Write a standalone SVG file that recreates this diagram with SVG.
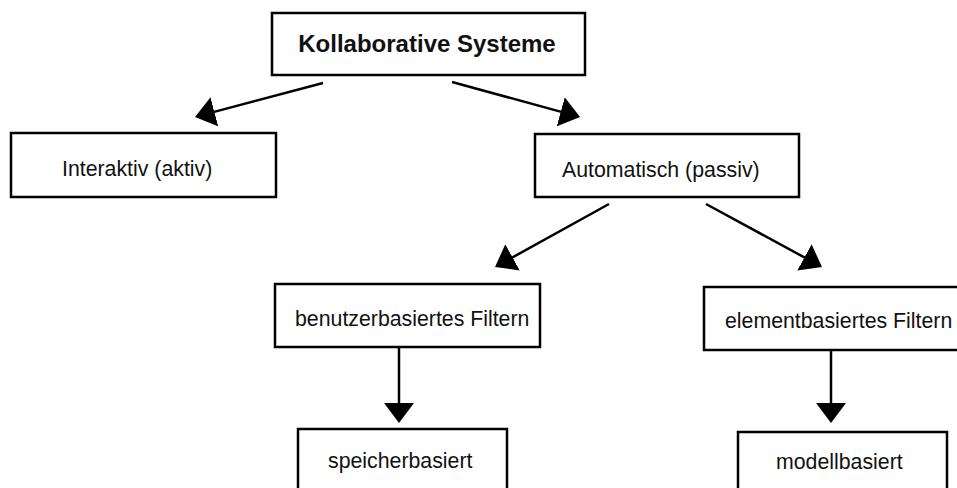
<svg xmlns="http://www.w3.org/2000/svg" width="957" height="488" viewBox="0 0 957 488">
<style>
.box{fill:#fff;stroke:#000;stroke-width:2.5}
.t{font-family:"Liberation Sans",Arial,Helvetica,sans-serif;font-size:21.3px;fill:#111}
.tb{font-family:"Liberation Sans",Arial,Helvetica,sans-serif;font-size:24px;font-weight:bold;fill:#111}
.c{stroke:#000;stroke-width:2.5;fill:none;marker-end:url(#ah)}
</style>
<defs>
<marker id="ah" viewBox="0 0 20 30" refX="10" refY="15" markerWidth="20" markerHeight="30" markerUnits="userSpaceOnUse" orient="auto">
<path d="M0,0 L20,15 L0,30 z" fill="#000"/>
</marker>
</defs>
<rect width="957" height="488" fill="#fff"/>
<g id="connectors">
<line class="c" x1="323" y1="83" x2="204.7" y2="114.4"/>
<line class="c" x1="452" y1="82" x2="570.4" y2="114.4"/>
<line class="c" x1="609" y1="204" x2="503.8" y2="262.2"/>
<line class="c" x1="706" y1="204" x2="813.2" y2="262.2"/>
<line class="c" x1="399" y1="347" x2="399" y2="413"/>
<line class="c" x1="831" y1="350" x2="831" y2="413"/>
</g>
<g id="n-kollaborative">
<rect class="box" x="272" y="13" width="313" height="62"/>
<text class="tb" x="427" y="52" text-anchor="middle">Kollaborative Systeme</text>
</g>
<g id="n-interaktiv">
<rect class="box" x="11" y="133" width="265" height="64"/>
<text class="t" x="62" y="176">Interaktiv (aktiv)</text>
</g>
<g id="n-automatisch">
<rect class="box" x="535" y="134" width="264" height="63"/>
<text class="t" x="562" y="177">Automatisch (passiv)</text>
</g>
<g id="n-benutzer">
<rect class="box" x="275" y="284" width="265" height="63"/>
<text class="t" x="295" y="326">benutzerbasiertes Filtern</text>
</g>
<g id="n-element">
<rect class="box" x="704" y="287" width="260" height="63"/>
<text class="t" x="725" y="328">elementbasiertes Filtern</text>
</g>
<g id="n-speicher">
<rect class="box" x="298" y="429" width="209" height="70"/>
<text class="t" x="328" y="468">speicherbasiert</text>
</g>
<g id="n-modell">
<rect class="box" x="738" y="432" width="209" height="70"/>
<text class="t" x="776" y="469">modellbasiert</text>
</g>
</svg>
